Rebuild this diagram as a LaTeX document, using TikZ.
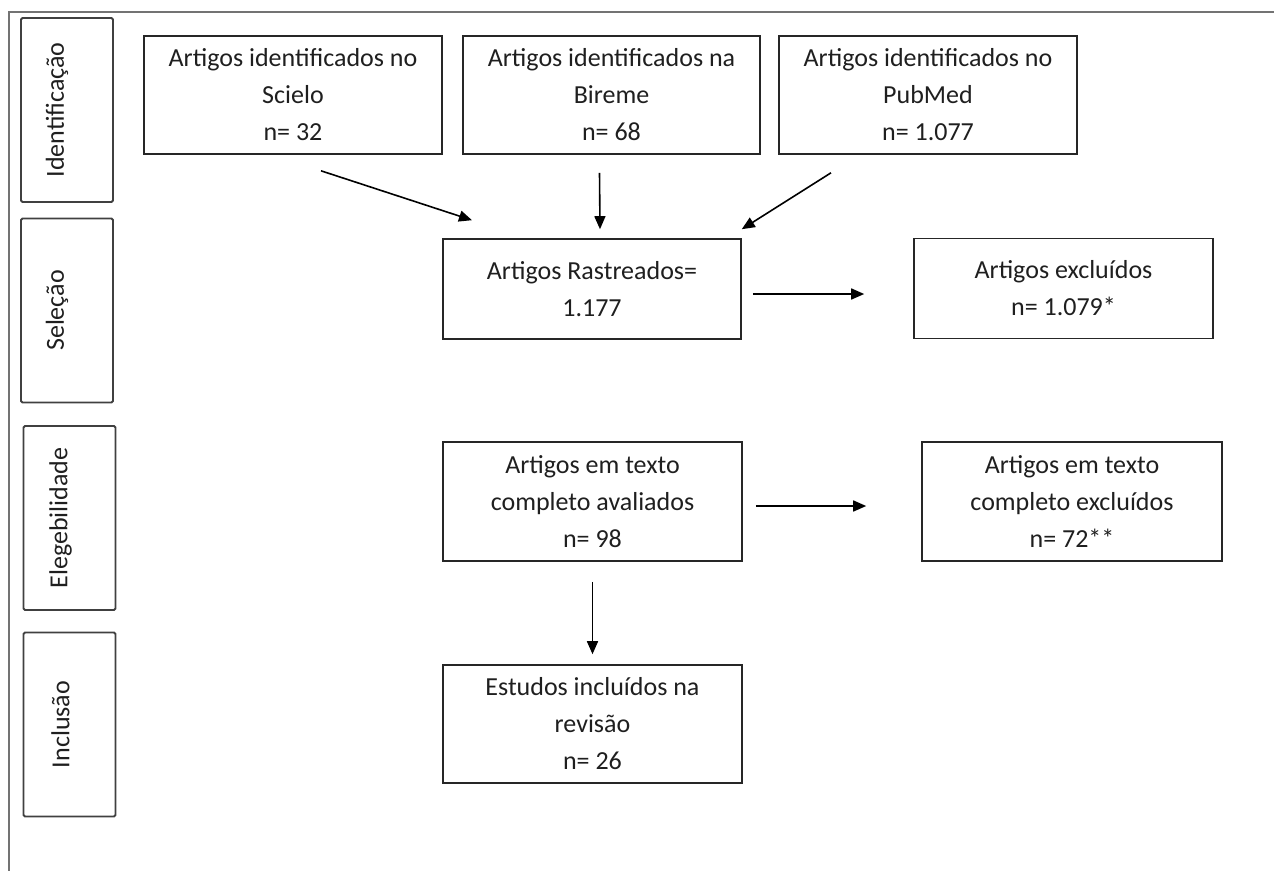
\documentclass[tikz,border=0pt]{standalone}
\usepackage{fontspec}
\setmainfont{Carlito}
\usetikzlibrary{arrows.meta}
\begin{document}
\begin{tikzpicture}[x=1pt,y=-1pt,
  box/.style={draw=black!85, line width=1.6pt, align=center, inner sep=0pt,
    minimum width=298pt, font=\fontsize{26}{37}\selectfont, text=black!88},
  sidebox/.style={draw=black!75, line width=1.8pt, rounded corners=1.5pt,
    minimum width=92pt, minimum height=184pt, inner sep=0pt},
  sidetext/.style={rotate=90, inner sep=0pt, font=\fontsize{26}{30}\selectfont, text=black!88},
  arr/.style={line width=1.6pt, black, -{Triangle[length=13pt,width=11pt]}},
  frame/.style={draw=black!55, line width=1.8pt}]
\useasboundingbox (0,0) rectangle (1274,871);
% outer frame (top and left edges)
\coordinate (ftl) at (9,12);
\coordinate (ftr) at (1274,12);
\coordinate (fbl) at (9,871);
\draw[frame] (ftr) -- (ftl) -- (fbl);
% side labels
\node[sidebox] (s1) at (67,110) {};
\node[sidetext] (t1) at ([xshift=-10pt]s1.center) {Identificação};
\node[sidebox] (s2) at (67,310.5) {};
\node[sidetext] (t2) at ([xshift=-10pt]s2.center) {Seleção};
\node[sidebox] (s3) at (69.5,518) {};
\node[sidetext] (t3) at ([xshift=-9pt]s3.center) {Elegebilidade};
\node[sidebox] (s4) at (69.5,724.5) {};
\node[sidetext] (t4) at ([xshift=-9pt]s4.center) {Inclusão};
% top boxes
\node[box, minimum height=118pt] (scielo) at (293,95) {Artigos identificados no\\Scielo\\n= 32};
\node[box, minimum height=118pt, minimum width=297pt] (bireme) at (611.5,95) {Artigos identificados na\\Bireme\\n= 68};
\node[box, minimum height=118pt] (pubmed) at (928,95) {Artigos identificados no\\PubMed\\n= 1.077};
% selection
\node[box, minimum height=100pt] (rast) at (592,289) {Artigos Rastreados=\\1.177};
\node[box, minimum height=100pt, minimum width=299pt] (excl) at (1063.5,288.5) {Artigos excluídos\\n= 1.079*};
% eligibility
\node[box, minimum height=119pt, minimum width=299pt] (texto) at (592.5,501.5) {Artigos em texto\\completo avaliados\\n= 98};
\node[box, minimum height=119pt, minimum width=300pt] (excl2) at (1072,501.5) {Artigos em texto\\completo excluídos\\n= 72**};
% inclusion
\node[box, minimum height=118pt, minimum width=299pt] (incl) at (592.5,724) {Estudos incluídos na\\revisão\\n= 26};
% arrows
\draw[arr] ([xshift=28pt,yshift=-16pt]scielo.south) -- ([xshift=-120pt,yshift=18pt]rast.north);
\draw[arr] ([xshift=-12pt,yshift=-18pt]bireme.south) -- ([xshift=8pt,yshift=9pt]rast.north);
\draw[arr] ([xshift=-97pt,yshift=-18pt]pubmed.south) -- ([yshift=9pt]rast.north east);
\draw[arr] ([xshift=11pt,yshift=-5pt]rast.east) -- ([xshift=-49pt,yshift=-5.5pt]excl.west);
\draw[arr] ([xshift=13pt,yshift=-4.5pt]texto.east) -- ([xshift=-55pt,yshift=-4.5pt]excl2.west);
\draw[arr] ([yshift=-20pt]texto.south) -- ([yshift=10pt]incl.north);
\end{tikzpicture}
\end{document}
